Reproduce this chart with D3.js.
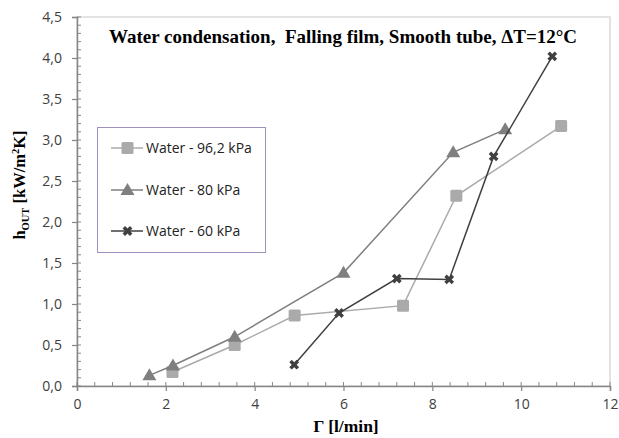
<!DOCTYPE html>
<html><head><meta charset="utf-8">
<script src="https://cdn.jsdelivr.net/npm/d3@7"></script>
<style>body{margin:0;background:#fff}svg{display:block}</style>
</head><body>
<svg id="c" width="619" height="438"></svg>
<script>
const seriesNames = ["Water - 96,2 kPa", "Water - 80 kPa", "Water - 60 kPa"];
const x96 = [2.15, 3.55, 4.9, 7.34, 8.54, 10.9];
const y96 = [0.17, 0.50, 0.86, 0.98, 2.32, 3.17];
const x80 = [1.63, 2.16, 3.55, 6.0, 8.47, 9.64];
const y80 = [0.13, 0.25, 0.60, 1.38, 2.85, 3.13];
const x60 = [4.89, 5.9, 7.2, 8.38, 9.38, 10.7];
const y60 = [0.26, 0.89, 1.31, 1.30, 2.80, 4.02];
const xTicks = [0, 2, 4, 6, 8, 10, 12];
const yTicks = [0, 0.5, 1, 1.5, 2, 2.5, 3, 3.5, 4, 4.5];

const svg = d3.select("#c");
const L = 77, R = 610, T = 17, B = 386;
const x = d3.scaleLinear().domain([0, 12]).range([L, R]);
const y = d3.scaleLinear().domain([0, 4.5]).range([B, T]);
const fmt = d => d3.format(".1f")(d).replace(".", ",");
const sans = "'Open Sans', sans-serif";

svg.append("rect").attr("x", L).attr("y", T).attr("width", R - L).attr("height", B - T)
  .attr("fill", "none").attr("stroke", "#c8c8c8").attr("stroke-width", 1);

const gMin = svg.append("g").attr("stroke", "#888").attr("stroke-width", 1);
d3.range(0, 12.001, 0.4).forEach(v => {
  gMin.append("line").attr("x1", x(v)).attr("x2", x(v)).attr("y1", B - 4).attr("y2", B);
});
d3.range(0, 4.501, 0.1).forEach(v => {
  gMin.append("line").attr("x1", L).attr("x2", L + 4).attr("y1", y(v)).attr("y2", y(v));
});

const ax = svg.append("g").attr("transform", `translate(0,${B})`)
  .call(d3.axisBottom(x).tickValues(xTicks).tickFormat(d3.format("d")).tickSize(5).tickPadding(8));
const ay = svg.append("g").attr("transform", `translate(${L},0)`)
  .call(d3.axisLeft(y).tickValues(yTicks).tickFormat(fmt).tickSize(5).tickPadding(10));
[ax, ay].forEach(g => {
  g.select(".domain").attr("stroke", "#868686").attr("stroke-width", 1.5);
  g.selectAll(".tick line").attr("stroke", "#868686").attr("stroke-width", 1.2);
  g.selectAll("text").attr("fill", "#404040").style("font-family", sans).style("font-size", "14px");
});

const series = [
  {name: seriesNames[0], xs: x96, ys: y96, color: "#aaaaaa", sym: "square"},
  {name: seriesNames[1], xs: x80, ys: y80, color: "#7f7f7f", sym: "triangle"},
  {name: seriesNames[2], xs: x60, ys: y60, color: "#404040", sym: "x"}
];
function marker(g, sym, color, cx, cy) {
  if (sym === "square") {
    g.append("rect").attr("x", cx - 6).attr("y", cy - 6).attr("width", 12).attr("height", 12)
      .attr("rx", 1.5).attr("fill", color);
  } else if (sym === "triangle") {
    g.append("path").attr("d", `M${cx},${cy - 7}L${cx + 7},${cy + 5}L${cx - 7},${cy + 5}Z`).attr("fill", color);
  } else {
    g.append("path").attr("d", d3.symbol(d3.symbolCross, 60)())
      .attr("transform", `translate(${cx},${cy}) rotate(45)`).attr("fill", color);
  }
}
const line = d3.line();
series.forEach(s => {
  const pts = s.xs.map((v, i) => [x(v), y(s.ys[i])]);
  svg.append("path").attr("d", line(pts)).attr("fill", "none").attr("stroke", s.color).attr("stroke-width", 1.5);
  const g = svg.append("g");
  pts.forEach(p => marker(g, s.sym, s.color, p[0], p[1]));
});

svg.append("rect").attr("x", 97.5).attr("y", 127.5).attr("width", 168).attr("height", 125)
  .attr("fill", "#fff").attr("stroke", "#a090c0").attr("stroke-width", 1);
const ly = [148, 190, 231];
series.forEach((s, i) => {
  const g = svg.append("g");
  g.append("line").attr("x1", 111).attr("x2", 143).attr("y1", ly[i]).attr("y2", ly[i])
    .attr("stroke", s.color).attr("stroke-width", 1.5);
  marker(g, s.sym, s.color, 127.5, ly[i]);
  g.append("text").attr("x", 146).attr("y", ly[i] + 5).text(s.name)
    .attr("fill", "#222").style("font-family", sans).style("font-size", "14px");
});

const serif = "'Liberation Serif', 'Times New Roman', serif";
svg.append("text").attr("x", 343).attr("y", 43).attr("text-anchor", "middle")
  .style("font-family", serif).style("font-weight", "bold").style("font-size", "19px")
  .style("white-space", "pre")
  .text("Water condensation,  Falling film, Smooth tube, ΔT=12°C");
svg.append("text").attr("x", 346).attr("y", 432).attr("text-anchor", "middle")
  .style("font-family", serif).style("font-weight", "bold").style("font-size", "17.5px")
  .text("Γ [l/min]");
const yl = svg.append("text").attr("transform", "translate(25,185) rotate(-90)").attr("text-anchor", "middle")
  .style("font-family", serif).style("font-weight", "bold").style("font-size", "16.5px");
yl.append("tspan").text("h");
yl.append("tspan").attr("dy", 4).style("font-size", "10.5px").text("OUT");
yl.append("tspan").attr("dy", -4).text(" [kW/m");
yl.append("tspan").attr("dy", -6).style("font-size", "10.5px").text("2");
yl.append("tspan").attr("dy", 6).text("K]");
</script>
</body></html>
